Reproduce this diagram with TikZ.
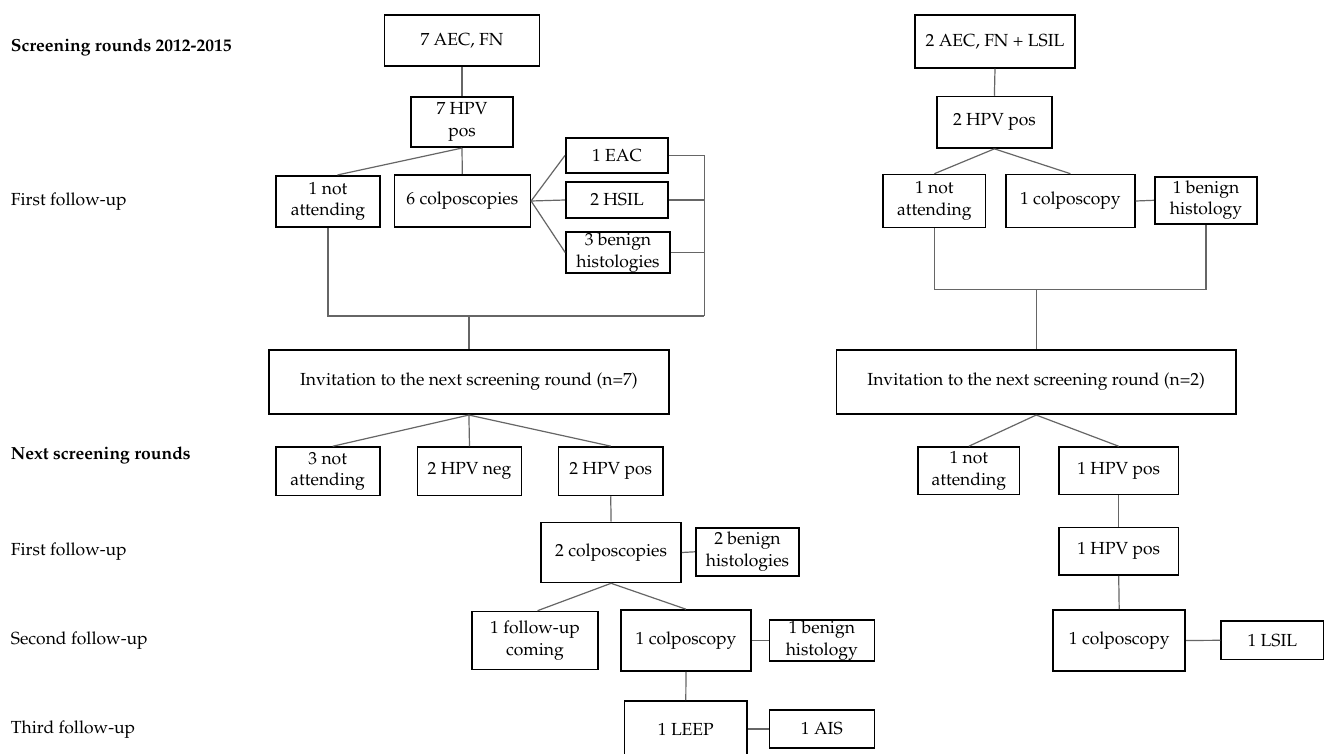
\documentclass[tikz,border=0pt]{standalone}
\usepackage[T1]{fontenc}
\usepackage{mathpazo}
\usepackage{tikz}
\newcommand{\bx}[6]{%
  \node[box,minimum width=#4pt,minimum height=#5pt] (#1) at (#2,#3) {#6};
}
\tikzset{
  box/.style={draw,line width=1.6pt,align=center,inner sep=1pt},
  link/.style={draw=black!60,line width=1.2pt},
  lbl/.style={anchor=west,inner sep=0pt}
}

\begin{document}
\begin{tikzpicture}[x=1pt,y=-1pt,every node/.style={font=\fontsize{17.5}{21.5}\selectfont}]
  \useasboundingbox[fill=white] (0,0) rectangle (1326,754);
  \node[lbl,font=\fontsize{17.5}{21.5}\selectfont\bfseries] (rA) at (10.7,47.7) {Screening rounds 2012-2015};
  \node[lbl] (rB) at (10.7,201.7) {First follow-up};
  \node[lbl,font=\fontsize{17.5}{21.5}\selectfont\bfseries] (rC) at (10.7,455) {Next screening rounds};
  \node[lbl] (rD) at (10.7,551.7) {First follow-up};
  \node[lbl] (rE) at (10.7,641) {Second follow-up};
  \node[lbl] (rF) at (10.7,730) {Third follow-up};

  \bx{aecA}{462}{40.5}{155}{51.5}{7 AEC, FN}
  \bx{hpvA}{462}{122}{102.5}{50.5}{7 HPV\\pos}
  \bx{naA}{328}{201.5}{103.5}{51.5}{1 not\\attending}
  \bx{colA}{462.3}{201}{136}{52.5}{6 colposcopies}
  \bx{eac}{617}{155.5}{102.5}{35.5}{1 EAC}
  \bx{hsil}{617}{200}{102.5}{36.5}{2 HSIL}
  \bx{benA}{618}{252.5}{104}{41.5}{3 benign\\histologies}
  \bx{invA}{468.9}{382}{400}{64.5}{Invitation to the next screening round (n=7)}
  \bx{naD}{327.7}{471.3}{104}{48.5}{3 not\\attending}
  \bx{neg}{469.5}{471.3}{104}{48.5}{2 HPV neg}
  \bx{posA}{610.7}{471.2}{104.5}{48.5}{2 HPV pos}
  \bx{colB}{611.1}{552.5}{140}{60}{2 colposcopies}
  \bx{benC}{747.5}{551.8}{103.5}{48}{2 benign\\histologies}
  \bx{fup}{535}{640.5}{126.5}{58}{1 follow-up\\coming}
  \bx{colC}{686}{640.5}{130.5}{61}{1 colposcopy}
  \bx{benD}{821.8}{640.5}{105}{39}{1 benign\\histology}
  \bx{leep}{685.8}{729}{122.5}{56}{1 LEEP}
  \bx{ais}{821.8}{729}{105}{38.5}{1 AIS}

  \bx{aecB}{995}{41.5}{160}{52.5}{2 AEC, FN + LSIL}
  \bx{hpvB}{994.4}{122.3}{115}{51.5}{2 HPV pos}
  \bx{naB}{934.4}{201}{102.5}{53}{1 not\\attending}
  \bx{colD}{1070.4}{201}{129}{53}{1 colposcopy}
  \bx{benB}{1206}{200.3}{102.5}{47}{1 benign\\histology}
  \bx{invB}{1036.2}{382}{399.5}{64.5}{Invitation to the next screening round (n=2)}
  \bx{naC}{968.8}{470.8}{101.5}{47.5}{1 not\\attending}
  \bx{posB}{1118.7}{470.8}{119.5}{47.5}{1 HPV pos}
  \bx{posC}{1118.7}{551.3}{119.5}{47.5}{1 HPV pos}
  \bx{colE}{1119.2}{640.5}{132}{61}{1 colposcopy}
  \bx{lsil}{1272.3}{640.3}{102.5}{38.5}{1 LSIL}

  \coordinate (jA) at (704.3,316);
  \coordinate (jB) at (1036.8,289.3);

  \foreach \a/\b in {aecA/hpvA,hpvA/colA,invA/neg,invA/posA,posA/colB,colB/colC,colC/leep,
                     aecB/hpvB,hpvB/naB,hpvB/colD,invB/naC,invB/posB,posB/posC,posC/colE}
    \draw[link] (\a.south) -- (\b.north);
  \draw[link] (hpvA.south) -- ([xshift=9.5pt]naA.north);
  \draw[link] (invA.south) -- ([xshift=5pt]naD.north);
  \draw[link] (colB.south) -- ([xshift=2.5pt]fup.north);
  \foreach \a/\b in {colA/eac,colA/hsil,colA/benA,colB/benC,colC/benD,leep/ais,colD/benB,colE/lsil}
    \draw[link] (\a.east) -- (\b.west);

  \draw[link] (naA.south) |- (jA);
  \foreach \a in {eac,hsil,benA}
    \draw[link] (\a.east) -| (jA);
  \draw[link] (invA.north) -- (invA.north |- jA);
  \draw[link] (naB.south) |- (jB) -| (benB.south);
  \draw[link] (invB.north) -- (invB.north |- jB);
\end{tikzpicture}
\end{document}
